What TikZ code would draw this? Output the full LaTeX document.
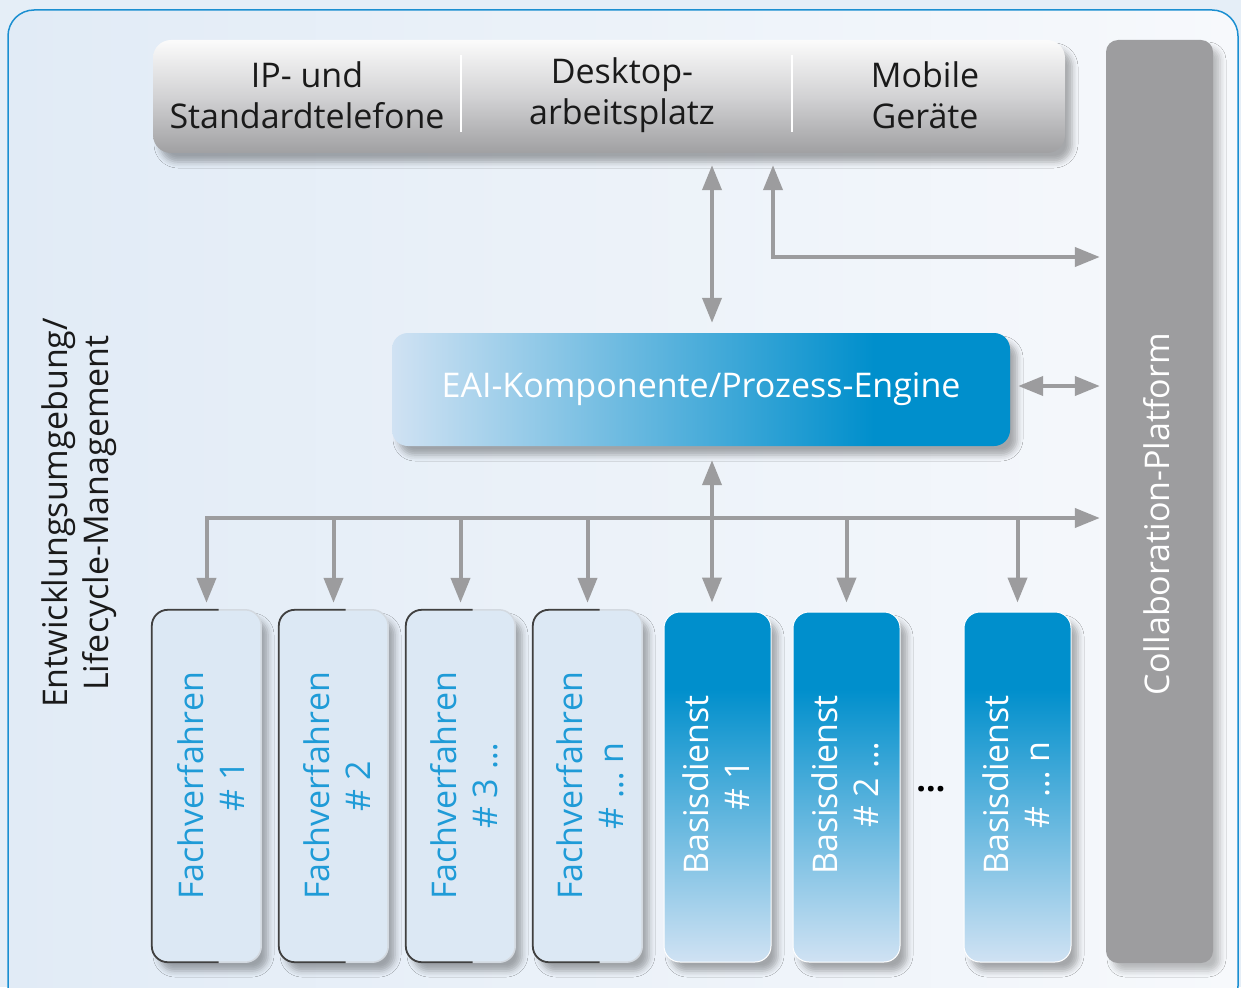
\documentclass[tikz,border=0pt]{standalone}
\usepackage{fontspec}
\setmainfont{Open Sans}
\usetikzlibrary{arrows.meta,shadows.blur,calc}
\definecolor{bgout}{HTML}{E5EEF7}
\definecolor{frameL}{HTML}{E1EBF6}
\definecolor{frameR}{HTML}{F7F9FC}
\definecolor{frameline}{HTML}{1B8FD1}
\definecolor{arrgray}{HTML}{9C9C9E}
\definecolor{collabgray}{HTML}{9D9D9F}
\definecolor{blueD}{HTML}{008FCC}
\definecolor{blueL}{HTML}{D0E2F3}
\definecolor{fachfill}{HTML}{DCE8F4}
\definecolor{fachtext}{HTML}{1F9BD7}
\definecolor{topgrayT}{HTML}{FBFBFB}
\definecolor{topgrayM}{HTML}{D2D2D4}
\definecolor{topgrayB}{HTML}{A0A0A2}
\definecolor{txtdark}{HTML}{1A1A1A}
\definecolor{fachborderL}{HTML}{D3D9E0}
\definecolor{fachborderD}{HTML}{404040}
\pgfdeclarehorizontalshading{eaishade}{100bp}{color(0bp)=(blueL); color(25bp)=(blueL); color(64bp)=(blueD); color(100bp)=(blueD)}
\pgfdeclareverticalshading{basisshade}{100bp}{color(0bp)=(blueL); color(25bp)=(blueL); color(64bp)=(blueD); color(100bp)=(blueD)}
\tikzset{
  txt/.style={font=\fontsize{34}{41}\selectfont, align=center, inner sep=0pt},
  arr/.style={draw=arrgray, line width=4pt, -{Triangle[width=19pt,length=25pt]}},
  dbl/.style={draw=arrgray, line width=4pt, {Triangle[width=19pt,length=25pt]}-{Triangle[width=19pt,length=25pt]}},
  shad/.style={blur shadow={shadow xshift=7pt, shadow yshift=-9pt, shadow blur radius=6pt, shadow opacity=32}},
  fachbox/.style={shad, rounded corners=16pt, fill=fachfill, minimum width=109pt, minimum height=352pt, inner sep=0pt},
  basisbox/.style={shad, rounded corners=16pt, shading=basisshade, draw=white, line width=1pt, minimum width=107pt, minimum height=350pt, inner sep=0pt},
  fachtxt/.style={txt, rotate=90, text=fachtext},
  basistxt/.style={txt, rotate=90, text=white},
}
\begin{document}
\begin{tikzpicture}[x=1pt,y=-1pt]
\useasboundingbox (0,0) rectangle (1241,987);
\fill[bgout] (0,0) rectangle (1241,987);
% frame
\draw[frameline, line width=1.5pt, rounded corners=26pt, left color=frameL, right color=frameR] (8,10) rectangle (1238,1012);

% helper coordinates
\coordinate (c712) at (712,0);
\coordinate (c773) at (773,0);
\coordinate (c257) at (0,257);
\coordinate (c386) at (0,386);
\coordinate (cbus) at (0,518);

% top bar
\node[shad, rounded corners=18pt, top color=topgrayT, bottom color=topgrayB, middle color=topgrayM, minimum width=912pt, minimum height=113pt, inner sep=0pt] (top) at (609,96.5) {};
\draw[white, line width=2pt] (461,55) -- (461,132);
\draw[white, line width=2pt] (792,55) -- (792,132);
\node[txt, text=txtdark] (t1) at (307,95) {IP- und\\Standardtelefone};
\node[txt, text=txtdark] (t2) at (622,95) {Desktop-\\arbeitsplatz};
\node[txt, text=txtdark] (t3) at (925,95) {Mobile\\Geräte};

% collaboration platform
\node[blur shadow={shadow xshift=7pt, shadow yshift=-8pt, shadow blur radius=6pt, shadow opacity=25}, rounded corners=12pt, fill=collabgray, minimum width=107pt, minimum height=923pt, inner sep=0pt] (collab) at (1159.5,501.5) {};
\node[txt, rotate=90, text=white] (collabtxt) at (1157,514) {Collaboration-Platform};

% EAI
\node[shad, rounded corners=16pt, shading=eaishade, minimum width=618pt, minimum height=113pt, inner sep=0pt, txt, text=white] (eai) at (701,389.5) {EAI-Komponente/Prozess-Engine};

% left label
\node[txt, rotate=90, text=txtdark] (left) at (79,513) {Entwicklungsumgebung/\\Lifecycle-Management};

% Fachverfahren boxes
\node[fachbox] (f1) at (206.5,786) {};
\node[fachbox] (f2) at (333.5,786) {};
\node[fachbox] (f3) at (460.5,786) {};
\node[fachbox] (f4) at (587.5,786) {};
\foreach \n in {f1,f2,f3,f4}{
  \draw[fachborderL, line width=1.5pt, rounded corners=16pt] (\n.north west) rectangle (\n.south east);
  \begin{scope}
    \clip ($(\n.north west)+(-5,-5)$) rectangle ($(\n.south)+(12,5)$);
    \draw[fachborderD, line width=1.8pt, rounded corners=16pt] (\n.north west) rectangle (\n.south east);
  \end{scope}
}
\node[fachtxt] (f1t) at (211,786) {Fachverfahren\\\# 1};
\node[fachtxt] (f2t) at (337,786) {Fachverfahren\\\# 2};
\node[fachtxt] (f3t) at (464,786) {Fachverfahren\\\# 3 …};
\node[fachtxt] (f4t) at (590,786) {Fachverfahren\\\# … n};

% Basisdienst boxes
\node[basisbox] (b1) at (717.5,787) {};
\node[basisbox] (b2) at (846.5,787) {};
\node[basisbox] (b3) at (1017.5,787) {};
\node[basistxt] (b1t) at (716,785) {Basisdienst\\\# 1};
\node[basistxt] (b2t) at (845,785) {Basisdienst\\\# 2 …};
\node[basistxt] (b3t) at (1016,785) {Basisdienst\\\# … n};
\node[txt, text=black, font=\fontsize{34}{41}\selectfont\bfseries] (dots) at (931,789) {…};

% connectors
\draw[dbl, shorten <=12pt, shorten >=10pt] (top.south -| c712) -- (eai.north -| c712);
\draw[dbl, shorten <=12pt, shorten >=6pt] (top.south -| c773) |- (collab.west |- c257);
\draw[dbl, shorten <=8pt, shorten >=6pt] (eai.east |- c386) -- (collab.west |- c386);
\draw[arr, line cap=rect, shorten >=6pt] (f1.north |- cbus) -- (collab.west |- cbus);
\draw[dbl, shorten <=14pt, shorten >=9pt] (eai.south -| c712) -- (b1.north -| c712);
\foreach \n in {f1,f2,f3,f4}{
  \draw[arr, shorten >=7pt] (\n.north |- cbus) -- (\n.north);
}
\foreach \n in {b2,b3}{
  \draw[arr, shorten >=9pt] (\n.north |- cbus) -- (\n.north);
}
\end{tikzpicture}
\end{document}
